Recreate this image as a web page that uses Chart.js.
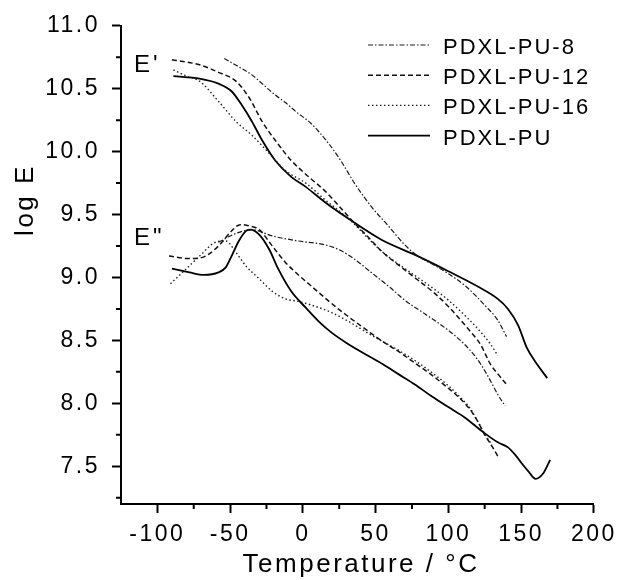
<!DOCTYPE html>
<html>
<head>
<meta charset="utf-8">
<title>log E vs Temperature</title>
<script src="https://cdn.jsdelivr.net/npm/chart.js@4.4.1/dist/chart.umd.min.js"></script>
<style>
    html, body { margin: 0; padding: 0; background: #fff; }
    #dmaChart { display: block; }
</style>
</head>
<body>
<canvas id="dmaChart" width="621" height="580"></canvas>
<script>
// --- data ---
const seriesLabels = ["PDXL-PU-8", "PDXL-PU-12", "PDXL-PU-16", "PDXL-PU"];

// E' (storage modulus)
const pu8StorageT = [-54, -45, -35, -27, -19, -12, -5, 6, 18, 26, 36, 48, 58, 70, 79, 90, 100, 112, 125, 134, 140];
const pu8StorageLog = [10.74, 10.68, 10.61, 10.53, 10.45, 10.39, 10.32, 10.22, 10.06, 9.93, 9.74, 9.55, 9.42, 9.26, 9.17, 9.10, 9.03, 8.93, 8.78, 8.66, 8.53];

const pu12StorageT = [-90, -71, -58, -46, -37, -28, -19, -8, 4, 15, 27, 34, 45, 55, 69, 79, 90, 100, 113, 122, 129, 135, 140];
const pu12StorageLog = [10.73, 10.69, 10.63, 10.56, 10.43, 10.24, 10.09, 9.93, 9.80, 9.69, 9.54, 9.45, 9.32, 9.20, 9.07, 8.98, 8.88, 8.77, 8.60, 8.47, 8.31, 8.22, 8.15];

const pu16StorageT = [-89, -80, -71, -58, -46, -35, -25, -12, 2, 15, 27, 34, 45, 55, 69, 79, 90, 100, 113, 122, 129, 134];
const pu16StorageLog = [10.65, 10.60, 10.56, 10.40, 10.24, 10.13, 10.01, 9.85, 9.75, 9.62, 9.51, 9.44, 9.31, 9.20, 9.08, 9.00, 8.91, 8.82, 8.68, 8.57, 8.47, 8.38];

const puStorageT = [-89, -71, -58, -49, -42, -35, -28, -19, -8, 2, 15, 31, 54, 79, 100, 120, 134, 141, 148, 154, 161, 168];
const puStorageLog = [10.60, 10.58, 10.54, 10.48, 10.37, 10.24, 10.09, 9.93, 9.80, 9.72, 9.60, 9.47, 9.30, 9.17, 9.05, 8.93, 8.83, 8.75, 8.62, 8.44, 8.31, 8.20];

// E" (loss modulus)
const pu8LossT = [-58, -46, -35, -21, -3, 15, 25, 35, 47, 60, 70, 84, 100, 111, 120, 127, 134, 139];
const pu8LossLog = [9.28, 9.35, 9.38, 9.33, 9.29, 9.26, 9.22, 9.15, 9.04, 8.92, 8.82, 8.71, 8.58, 8.47, 8.35, 8.22, 8.07, 7.98];

const pu12LossT = [-92, -78, -69, -58, -49, -43, -37, -30, -21, -12, -3, 8, 18, 30, 43, 55, 66, 77, 88, 100, 107, 115, 120, 125, 130, 135];
const pu12LossLog = [9.17, 9.15, 9.16, 9.25, 9.37, 9.42, 9.41, 9.38, 9.25, 9.12, 9.02, 8.91, 8.81, 8.70, 8.59, 8.49, 8.41, 8.32, 8.23, 8.12, 8.05, 7.95, 7.86, 7.75, 7.66, 7.56];

const pu16LossT = [-91, -80, -71, -60, -53, -46, -39, -30, -21, -12, -3, 6, 18, 30, 43, 55, 66, 77, 88, 100, 108, 115, 121, 126, 130];
const pu16LossLog = [8.95, 9.07, 9.17, 9.28, 9.29, 9.20, 9.09, 8.99, 8.89, 8.83, 8.81, 8.78, 8.73, 8.66, 8.57, 8.49, 8.42, 8.34, 8.25, 8.14, 8.05, 7.96, 7.84, 7.74, 7.67];

const puLossT = [-90, -78, -68, -58, -53, -49, -44, -39, -36, -30, -23, -17, -8, 2, 11, 20, 30, 43, 55, 66, 77, 88, 100, 111, 123, 134, 141, 146, 150, 155, 160, 165, 170];
const puLossLog = [9.07, 9.04, 9.02, 9.04, 9.08, 9.17, 9.29, 9.37, 9.38, 9.34, 9.22, 9.07, 8.89, 8.76, 8.65, 8.56, 8.48, 8.39, 8.31, 8.23, 8.15, 8.06, 7.97, 7.89, 7.78, 7.69, 7.65, 7.59, 7.53, 7.46, 7.40, 7.44, 7.55];

// axis ticks
const xTickValues = [-100, -50, 0, 50, 100, 150, 200];
const xMinorValues = [-75, -25, 25, 75, 125, 175];
const yTickValues = [7.5, 8.0, 8.5, 9.0, 9.5, 10.0, 10.5, 11.0];
const yMinorValues = [7.25, 7.75, 8.25, 8.75, 9.25, 9.75, 10.25, 10.75];

// curve labels inside the plot
const curveNoteText = ["E'", 'E"'];
const curveNoteT = [-116, -116];
const curveNoteLog = [10.63, 9.26];

// --- styles ---
const FONT = "'Liberation Sans', Arial, Helvetica, sans-serif";
const lineStyles = {
    "PDXL-PU-8": { dash: [5, 2, 1.5, 2], width: 1.2, color: "#1a1a1a" },
    "PDXL-PU-12": { dash: [5, 3], width: 1.5, color: "#111" },
    "PDXL-PU-16": { dash: [1.5, 2.5], width: 1.4, color: "#222" },
    "PDXL-PU": { dash: [], width: 1.8, color: "#000" },
};

function points(xs, ys) {
    return xs.map((x, i) => ({ x: x, y: ys[i] }));
}

function makeDataset(label, xs, ys) {
    const st = lineStyles[label];
    return {
        label: label,
        data: points(xs, ys),
        borderColor: st.color,
        borderWidth: st.width,
        borderDash: st.dash,
        pointRadius: 0,
        fill: false,
        cubicInterpolationMode: "monotone",
    };
}

const datasets = [
    makeDataset(seriesLabels[0], pu8StorageT, pu8StorageLog),
    makeDataset(seriesLabels[1], pu12StorageT, pu12StorageLog),
    makeDataset(seriesLabels[2], pu16StorageT, pu16StorageLog),
    makeDataset(seriesLabels[3], puStorageT, puStorageLog),
    makeDataset(seriesLabels[0], pu8LossT, pu8LossLog),
    makeDataset(seriesLabels[1], pu12LossT, pu12LossLog),
    makeDataset(seriesLabels[2], pu16LossT, pu16LossLog),
    makeDataset(seriesLabels[3], puLossT, puLossLog),
];

// spacing, minor ticks, axis titles, curve notes and legend
const figureText = {
    id: "figureText",
    beforeDraw(chart) {
        chart.ctx.letterSpacing = "2.5px";
    },
    afterDraw(chart) {
        const ctx = chart.ctx;
        const xs = chart.scales.x;
        const ys = chart.scales.y;
        const area = chart.chartArea;

        ctx.save();
        ctx.strokeStyle = "#000";
        ctx.lineWidth = 2;
        ctx.setLineDash([]);
        ctx.beginPath();
        xMinorValues.forEach((v) => {
            const px = xs.getPixelForValue(v);
            ctx.moveTo(px, area.bottom);
            ctx.lineTo(px, area.bottom + 5);
        });
        yMinorValues.forEach((v) => {
            const py = ys.getPixelForValue(v);
            ctx.moveTo(area.left - 5, py);
            ctx.lineTo(area.left, py);
        });
        ctx.stroke();

        ctx.fillStyle = "#000";
        ctx.letterSpacing = "2.5px";
        ctx.font = "26px " + FONT;
        ctx.textBaseline = "alphabetic";
        ctx.textAlign = "center";
        ctx.fillText("Temperature / \u00B0C", 361, 572);

        ctx.save();
        ctx.translate(33, 200);
        ctx.rotate(-Math.PI / 2);
        ctx.fillText("log E", 0, 0);
        ctx.restore();

        ctx.textAlign = "left";
        ctx.font = "24px " + FONT;
        ctx.letterSpacing = "3px";
        curveNoteText.forEach((t, i) => {
            ctx.fillText(t, xs.getPixelForValue(curveNoteT[i]), ys.getPixelForValue(curveNoteLog[i]));
        });

        ctx.font = "22px " + FONT;
        ctx.letterSpacing = "2px";
        seriesLabels.forEach((label, i) => {
            const st = lineStyles[label];
            const base = 54 + i * 30.2;
            ctx.strokeStyle = st.color;
            ctx.lineWidth = st.width;
            ctx.setLineDash(st.dash);
            ctx.beginPath();
            ctx.moveTo(368, base - 9);
            ctx.lineTo(430, base - 9);
            ctx.stroke();
            ctx.fillText(label, 443, base);
        });
        ctx.restore();
    },
};

const tickFont = { family: FONT, size: 23 };

new Chart(document.getElementById("dmaChart").getContext("2d"), {
    type: "line",
    data: { datasets: datasets },
    options: {
        responsive: false,
        animation: false,
        devicePixelRatio: 1,
        layout: {
            padding: { top: 20, right: 24, bottom: 0, left: 0 },
        },
        plugins: {
            legend: { display: false },
            tooltip: { enabled: false },
        },
        scales: {
            x: {
                type: "linear",
                min: -125,
                max: 200,
                afterFit: function (scale) {
                    scale.height = 76;
                },
                afterBuildTicks: function (scale) {
                    scale.ticks = xTickValues.map((v) => ({ value: v }));
                },
                ticks: {
                    color: "#000",
                    font: tickFont,
                    padding: 8,
                    maxRotation: 0,
                    autoSkip: false,
                },
                grid: {
                    drawOnChartArea: false,
                    tickLength: 9,
                    tickWidth: 2,
                    tickColor: "#000",
                },
                border: { color: "#000", width: 2 },
            },
            y: {
                min: 7.2,
                max: 11.0,
                afterFit: function (scale) {
                    scale.width = 121;
                },
                afterBuildTicks: function (scale) {
                    scale.ticks = yTickValues.map((v) => ({ value: v }));
                },
                ticks: {
                    color: "#000",
                    font: tickFont,
                    padding: 12,
                    callback: (v) => Number(v).toFixed(1),
                },
                grid: {
                    drawOnChartArea: false,
                    tickLength: 9,
                    tickWidth: 2,
                    tickColor: "#000",
                },
                border: { color: "#000", width: 2 },
            },
        },
    },
    plugins: [figureText],
});
</script>
</body>
</html>
